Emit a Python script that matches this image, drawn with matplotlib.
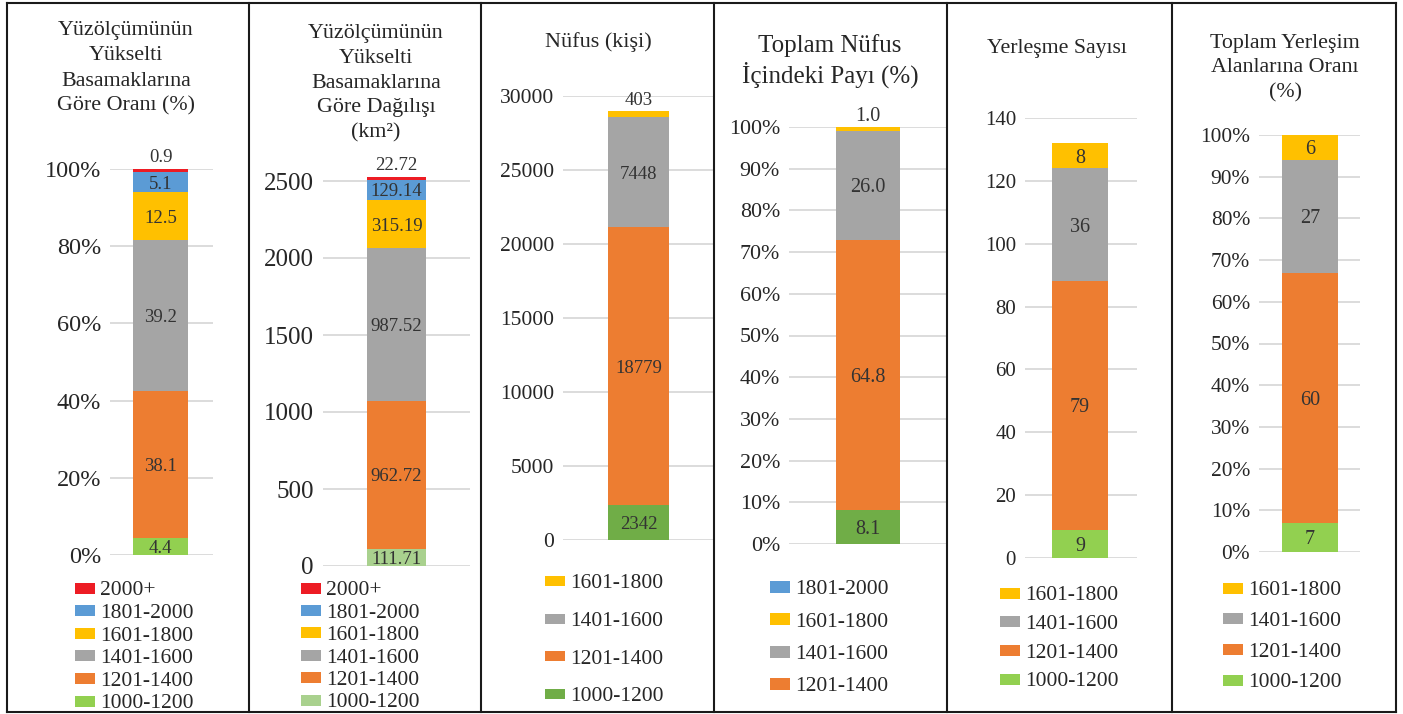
import matplotlib
matplotlib.use("Agg")
import matplotlib.pyplot as plt
from matplotlib.patches import Rectangle
from matplotlib.lines import Line2D
from matplotlib.ticker import FuncFormatter

plt.rcParams['font.family'] = ['Liberation Serif', 'DejaVu Serif']

W, H, DPI = 1403, 714, 100

# ---------------- data ----------------
cat_2000p = '2000+'
cat_1801 = '1801-2000'
cat_1601 = '1601-1800'
cat_1401 = '1401-1600'
cat_1201 = '1201-1400'
cat_1000 = '1000-1200'

# Panel 1: share of area by elevation step (%)
p1_categories = [cat_1000, cat_1201, cat_1401, cat_1601, cat_1801, cat_2000p]
p1_values = [4.4, 38.1, 39.2, 12.5, 5.1, 0.9]
p1_title = ['Yüzölçümünün', 'Yükselti', 'Basamaklarına', 'Göre Oranı (%)']

# Panel 2: area by elevation step (km2)
p2_categories = [cat_1000, cat_1201, cat_1401, cat_1601, cat_1801, cat_2000p]
p2_values = [111.71, 962.72, 987.52, 315.19, 129.14, 22.72]
p2_title = ['Yüzölçümünün', 'Yükselti', 'Basamaklarına', 'Göre Dağılışı', '(km²)']

# Panel 3: population
p3_categories = [cat_1000, cat_1201, cat_1401, cat_1601]
p3_values = [2342, 18779, 7448, 403]
p3_title = ['Nüfus (kişi)']

# Panel 4: share in total population (%)
p4_categories = [cat_1000, cat_1201, cat_1401, cat_1601]
p4_values = [8.1, 64.8, 26.0, 1.0]
p4_legend = [cat_1801, cat_1601, cat_1401, cat_1201]
p4_title = ['Toplam Nüfus', 'İçindeki Payı (%)']

# Panel 5: number of settlements
p5_categories = [cat_1000, cat_1201, cat_1401, cat_1601]
p5_values = [9, 79, 36, 8]
p5_title = ['Yerleşme Sayısı']

# Panel 6: share in total settlement areas (%)
p6_categories = [cat_1000, cat_1201, cat_1401, cat_1601]
p6_values = [7, 60, 27, 6]
p6_title = ['Toplam Yerleşim', 'Alanlarına Oranı', '(%)']

# ---------------- styles ----------------
base_colors = {cat_2000p: '#ED1C24', cat_1801: '#5B9BD5', cat_1601: '#FFC000',
               cat_1401: '#A5A5A5', cat_1201: '#ED7D31', cat_1000: '#92D050'}
TXT = '#262626'
LBL = '#333333'
GRID = '#D9D9D9'


def px2pt(p):
    return p * 72.0 / DPI


panels = [
    dict(cats=p1_categories, vals=p1_values, title=p1_title, legend=p1_categories[::-1],
         pct=True, fmt='{:.1f}', green='#92D050',
         gx=(110, 213), bar=(133, 188), y0=555, yref=169, ref=100, ymax=100, step=20,
         tick_fs=17.5, lbl_fs=13.5,
         tcx=126, tb0=35, tstep=25.3, tfs=15.8,
         lx=75, ly0=588, lstep=22.6, lh=11, lfs=15.5),
    dict(cats=p2_categories, vals=p2_values, title=p2_title, legend=p2_categories[::-1],
         pct=False, fmt='{:.2f}', green='#A9D18E',
         gx=(323, 470), bar=(367, 426), y0=566, yref=181, ref=2500, ymax=2600, step=500, tmax=2500,
         tick_fs=18, lbl_fs=13.5,
         tcx=376, tb0=38, tstep=24.8, tfs=15.8,
         lx=301, ly0=588, lstep=22.4, lh=11, lfs=15.5),
    dict(cats=p3_categories, vals=p3_values, title=p3_title, legend=p3_categories[::-1],
         pct=False, fmt='{:d}', green='#70AD47',
         gx=(563, 713), bar=(608, 669), y0=540, yref=96, ref=30000, ymax=30000, step=5000,
         tick_fs=15.5, lbl_fs=13.5,
         tcx=598, tb0=47, tstep=25, tfs=16,
         lx=545, ly0=581, lstep=37.7, lh=10, lfs=15.5),
    dict(cats=p4_categories, vals=p4_values, title=p4_title, legend=p4_legend,
         pct=True, fmt='{:.1f}', green='#70AD47',
         gx=(789, 946), bar=(836, 900), y0=544, yref=127, ref=100, ymax=100, step=10,
         tick_fs=15.8, lbl_fs=14.5,
         tcx=830, tb0=52, tstep=31, tfs=18,
         lx=770, ly0=587, lstep=32.3, lh=12, lfs=15.5),
    dict(cats=p5_categories, vals=p5_values, title=p5_title, legend=p5_categories[::-1],
         pct=False, fmt='{:d}', green='#92D050',
         gx=(1025, 1137), bar=(1052, 1108), y0=558, yref=118, ref=140, ymax=140, step=20,
         tick_fs=15, lbl_fs=14.5,
         tcx=1057, tb0=53, tstep=25, tfs=15.7,
         lx=1000, ly0=593, lstep=28.7, lh=11, lfs=15.5),
    dict(cats=p6_categories, vals=p6_values, title=p6_title, legend=p6_categories[::-1],
         pct=True, fmt='{:d}', green='#92D050',
         gx=(1259, 1360), bar=(1282, 1338), y0=552, yref=135, ref=100, ymax=100, step=10,
         tick_fs=15.4, lbl_fs=14.5,
         tcx=1285, tb0=48, tstep=24.5, tfs=15.8,
         lx=1223, ly0=588, lstep=30.7, lh=11, lfs=15.5),
]

fig = plt.figure(figsize=(W / DPI, H / DPI), dpi=DPI)

for p in panels:
    colors = dict(base_colors)
    colors[cat_1000] = p['green']
    vals = list(p['vals'])
    total = sum(vals)
    plot_vals = [v / total * 100.0 for v in vals] if p['pct'] else vals

    scale = (p['y0'] - p['yref']) / p['ref']  # px per unit
    top_px = p['y0'] - p['ymax'] * scale
    xl, xr = p['gx']
    ax = fig.add_axes([xl / W, 1 - p['y0'] / H, (xr - xl) / W, (p['y0'] - top_px) / H])
    bl, br = p['bar']
    bw_px = br - bl
    cx = (bl + br) / 2
    bw = 0.6
    ax.set_xlim((xl - cx) / bw_px * bw, (xr - cx) / bw_px * bw)
    ax.set_ylim(0, p['ymax'])
    tmax = p.get('tmax', p['ymax'])
    ax.set_yticks(list(range(0, int(tmax) + 1, p['step'])))
    if p['pct']:
        ax.yaxis.set_major_formatter(FuncFormatter(lambda v, pos: f'{int(round(v))}%'))
    ax.tick_params(axis='y', length=0, pad=px2pt(9), labelsize=p['tick_fs'], labelcolor=TXT)
    ax.set_xticks([])
    for s in ax.spines.values():
        s.set_visible(False)
    ax.yaxis.grid(True, color=GRID, lw=1.3)
    ax.set_axisbelow(True)
    ax.patch.set_alpha(0)

    bottom = 0.0
    for cat, v, pv in zip(p['cats'], vals, plot_vals):
        ax.bar(0, pv, width=bw, bottom=bottom, color=colors[cat], zorder=2, clip_on=False)
        txt = p['fmt'].format(int(v) if p['fmt'] == '{:d}' else v)
        fs = p['lbl_fs']
        dh = fs * DPI / 72.0 * 0.34  # half digit height, px
        if pv / p['ymax'] < 0.02:
            ycen = bottom + pv
            off_px = 13
        else:
            ycen = bottom + pv / 2
            off_px = 0
        ax.annotate(txt, xy=(0, ycen), xytext=(0, px2pt(off_px - dh)), textcoords='offset points',
                    ha='center', va='baseline', fontsize=fs, color=LBL, zorder=3,
                    annotation_clip=False)
        bottom += pv

    # title lines
    for i, line in enumerate(p['title']):
        yb = p['tb0'] + i * p['tstep']
        fig.text(p['tcx'] / W, 1 - yb / H, line, ha='center', va='baseline',
                 fontsize=p['tfs'], color=TXT)

    # legend (manual)
    lfs_px = p['lfs'] * DPI / 72.0
    for i, cat in enumerate(p['legend']):
        yc = p['ly0'] + i * p['lstep']
        lh = p['lh']
        fig.add_artist(Rectangle((p['lx'] / W, 1 - (yc + lh / 2) / H), 20 / W, lh / H,
                                 transform=fig.transFigure, facecolor=colors[cat],
                                 edgecolor='none'))
        fig.text((p['lx'] + 25) / W, 1 - (yc + 0.34 * lfs_px) / H, cat, ha='left',
                 va='baseline', fontsize=p['lfs'], color=TXT)

# frame and dividers
bx = [7, 249, 481, 714, 947, 1172, 1396]
yt, yb_ = 3, 712
for x in bx:
    fig.add_artist(Line2D([x / W, x / W], [1 - yt / H, 1 - yb_ / H], transform=fig.transFigure,
                          color='#1a1a1a', lw=1.5))
for y in (yt, yb_):
    fig.add_artist(Line2D([bx[0] / W, bx[-1] / W], [1 - y / H, 1 - y / H],
                          transform=fig.transFigure, color='#1a1a1a', lw=1.5))

fig.savefig('out.png', dpi=DPI)
